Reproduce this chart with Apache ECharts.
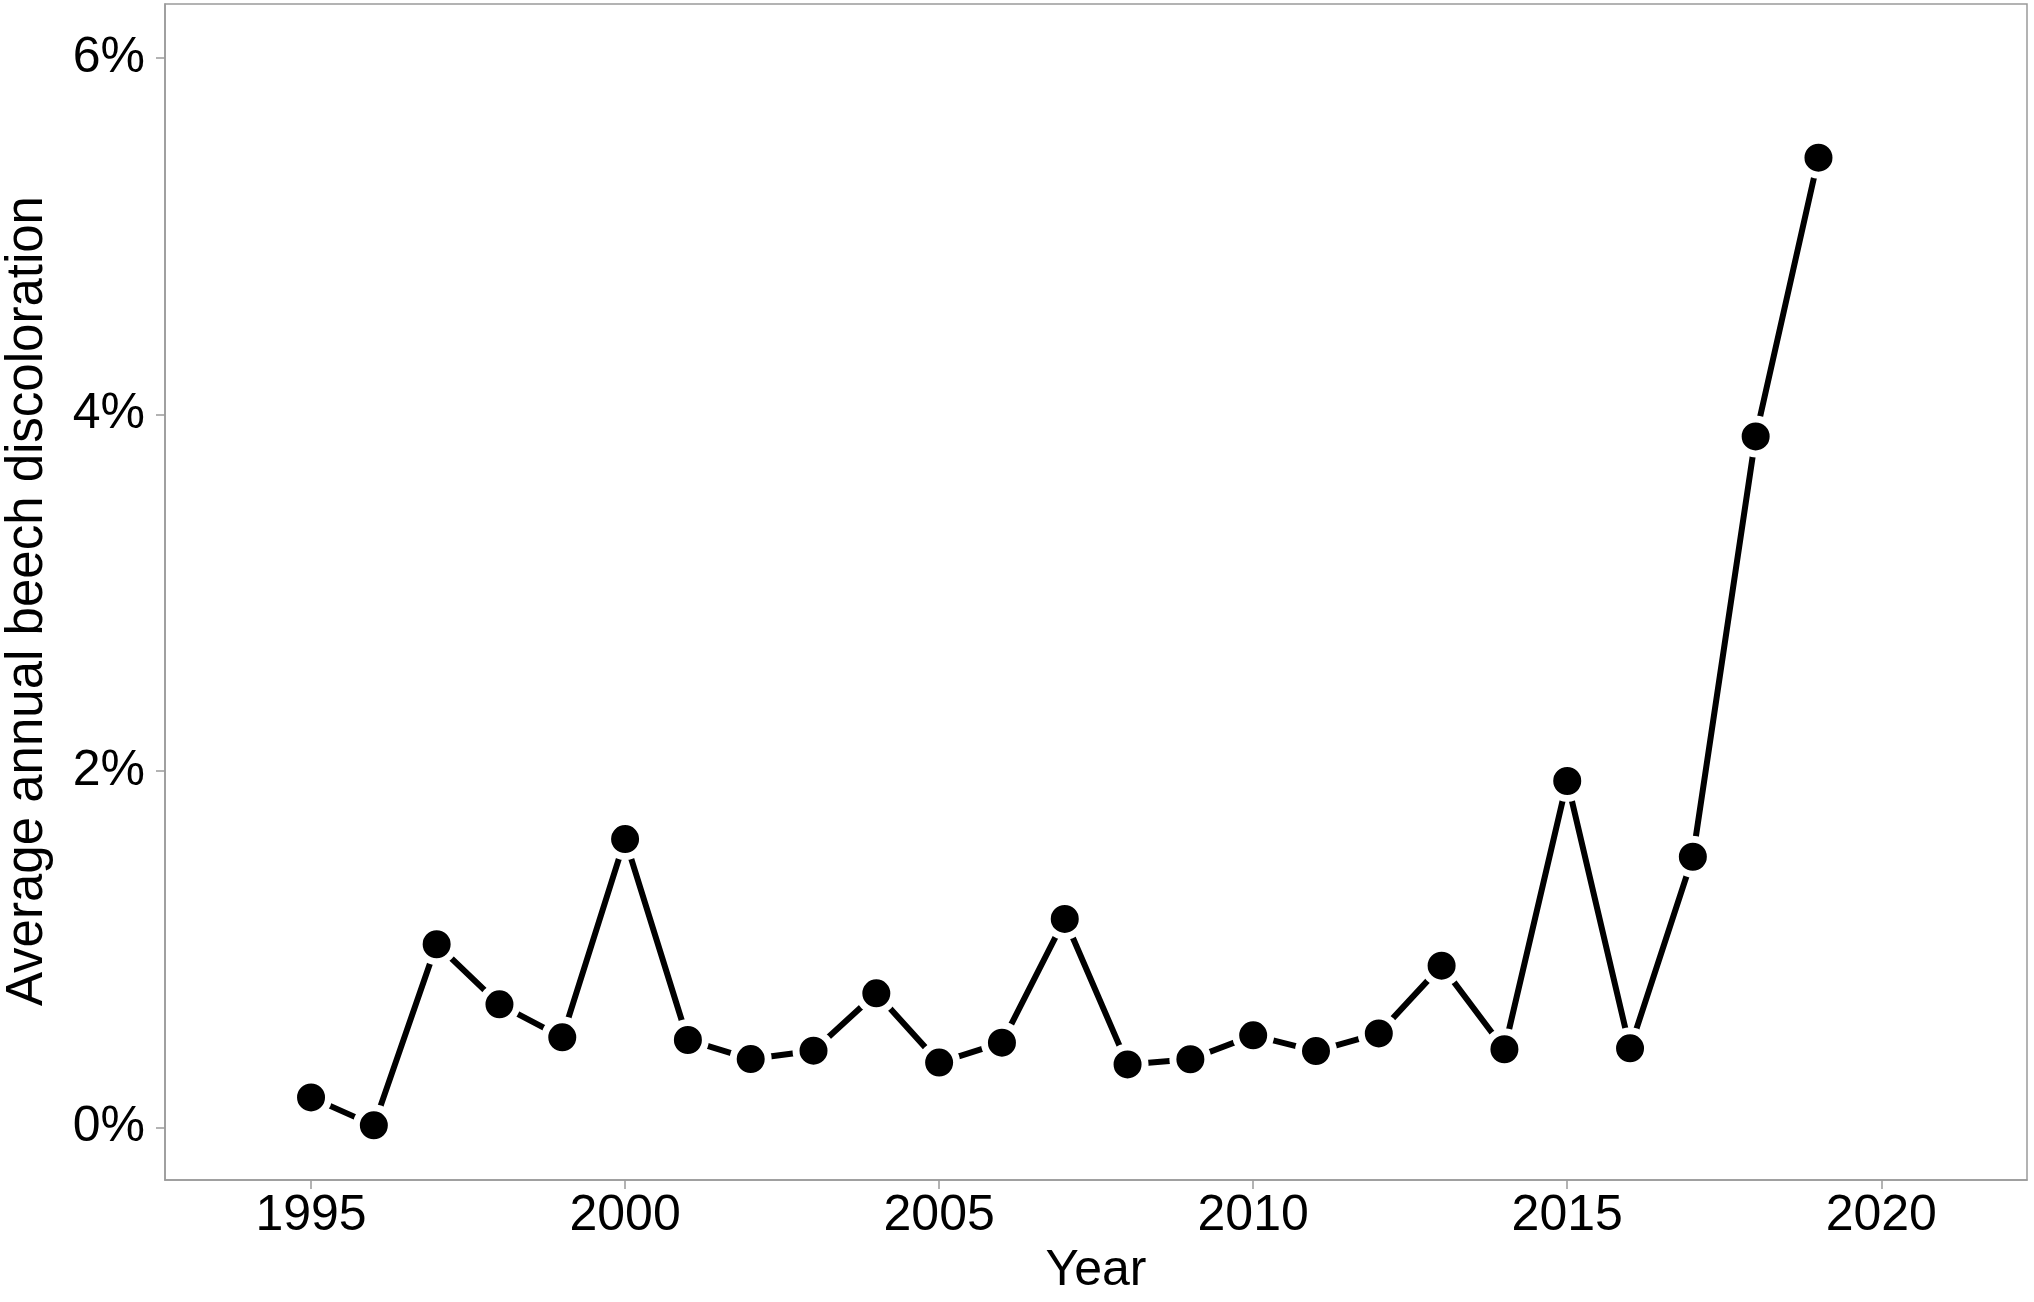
<!DOCTYPE html>
<html>
<head>
<meta charset="utf-8">
<script src="https://cdn.jsdelivr.net/npm/echarts@6/dist/echarts.min.js"></script>
<style>
html,body{margin:0;padding:0;background:#fff;}
#chart{width:2034px;height:1302px;}
</style>
</head>
<body>
<div id="chart"></div>
<script>
const years = [1995,1996,1997,1998,1999,2000,2001,2002,2003,2004,2005,2006,2007,2008,2009,2010,2011,2012,2013,2014,2015,2016,2017,2018,2019];
const discoloration = [0.169,0.012,1.028,0.691,0.506,1.618,0.491,0.384,0.431,0.753,0.364,0.476,1.170,0.354,0.383,0.517,0.429,0.528,0.908,0.439,1.944,0.444,1.519,3.877,5.441];
const xTicks = [1995,2000,2005,2010,2015,2020];
const yTicks = [0,2,4,6];

const font = "'Liberation Sans', Arial, Helvetica, sans-serif";
const grey = '#9a9a9a';
const chart = echarts.init(document.getElementById('chart'), null, {renderer:'canvas'});
chart.setOption({
  animation:false,
  backgroundColor:'#ffffff',
  grid:{left:165,right:7,top:4,bottom:122,containLabel:false,outerBoundsMode:'none',show:true,borderColor:grey,borderWidth:1.5,backgroundColor:'#ffffff'},
  xAxis:{
    type:'value', min:1992.675, max:2022.32,
    name:'Year', nameLocation:'middle', nameGap:63,
    nameTextStyle:{fontFamily:font,fontSize:50,color:'#000'},
    axisLine:{show:true,onZero:false,lineStyle:{color:grey,width:1.5}},
    axisTick:{show:true,length:9,lineStyle:{color:grey,width:1.5},customValues:xTicks},
    axisLabel:{fontFamily:font,fontSize:50,color:'#000',margin:11,customValues:xTicks,formatter:v=>String(v)},
    splitLine:{show:false}
  },
  yAxis:{
    type:'value', min:-0.2945, max:6.303,
    name:'Average annual beech discoloration', nameLocation:'middle', nameGap:112, nameRotate:90,
    nameTextStyle:{fontFamily:font,fontSize:51,color:'#000',padding:[0,18,0,0]},
    axisLine:{show:true,onZero:false,lineStyle:{color:grey,width:1.5}},
    axisTick:{show:true,length:9,lineStyle:{color:grey,width:1.5},customValues:yTicks},
    axisLabel:{fontFamily:font,fontSize:50,color:'#000',margin:20,customValues:yTicks,formatter:v=>v+'%'},
    splitLine:{show:false}
  },
  series:[{
    type:'line',
    data:years.map((y,i)=>[y,discoloration[i]]),
    symbol:'circle', symbolSize:35,
    lineStyle:{color:'#000',width:6},
    itemStyle:{color:'#000',borderColor:'#fff',borderWidth:7},
    z:3
  }]
});
</script>
</body>
</html>
